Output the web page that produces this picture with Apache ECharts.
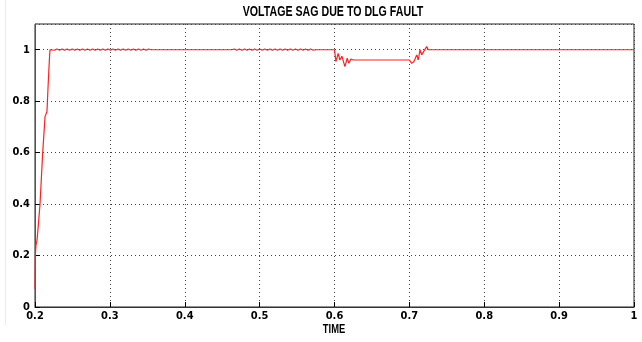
<!DOCTYPE html>
<html>
<head>
<meta charset="utf-8">
<script src="https://cdn.jsdelivr.net/npm/echarts@6/dist/echarts.min.js"></script>
<style>
  html, body { margin: 0; padding: 0; background: #fff; }
  #main { width: 642px; height: 342px; }
</style>
</head>
<body>
<div id="main"></div>
<script>
// start-up ramp (time, p.u.)
const rampTime = [0.2, 0.2005, 0.2013, 0.2027, 0.2045, 0.2067, 0.2103, 0.2134, 0.2160, 0.2175, 0.2190, 0.2200, 0.2210]
const rampVolt = [0.07, 0.20, 0.24, 0.26, 0.32, 0.40, 0.60, 0.74, 0.76, 0.86, 0.95, 1.0, 1.003]

// small ripple around 1 p.u. (uniform sampling)
const rippleStep = 0.0034
const ripple1Start = 0.2225
const ripple1Volt = [1.003, 0.998, 1.003, 0.998, 1.003, 0.998, 1.003, 0.998, 1.003, 0.998,
  1.003, 0.998, 1.003, 0.998, 1.003, 0.998, 1.003, 0.998, 1.003, 0.998,
  1.003, 0.998, 1.003, 0.998, 1.003, 0.998, 1.003, 0.998, 1.003, 0.998,
  1.003, 0.998, 1.003, 0.998, 1.003, 0.998, 1.003, 0.998, 1.003, 1.0]
const ripple2Start = 0.4627
const ripple2Volt = [1.0, 1.003, 0.998, 1.003, 0.998, 1.003, 0.998, 1.003, 0.998, 1.003,
  0.998, 1.003, 0.998, 1.003, 0.998, 1.003, 0.998, 1.003, 0.998, 1.003,
  0.998, 1.003, 0.998, 1.003, 0.998, 1.003, 0.998, 1.003, 0.998, 1.003,
  0.998, 1.003, 0.998, 1.0]

// fault (sag) at 0.6 s and recovery at 0.7 s
const sagTime = [0.5762, 0.6, 0.6019, 0.6049, 0.6072, 0.6099, 0.6139, 0.6170, 0.6192, 0.6219, 0.6250,
  0.7, 0.7031, 0.7061, 0.7098, 0.7119, 0.7142, 0.7164, 0.7231, 0.7252, 1.0]
const sagVolt = [1.0, 1.0, 0.954, 0.986, 0.960, 0.975, 0.934, 0.967, 0.947, 0.964, 0.960,
  0.960, 0.947, 0.954, 0.980, 0.960, 1.0, 0.980, 1.012, 1.0, 1.0]

const xTicks = [0.2, 0.3, 0.4, 0.5, 0.6, 0.7, 0.8, 0.9, 1]
const yTicks = [0, 0.2, 0.4, 0.6, 0.8, 1]

let points = []
rampTime.forEach((t, i) => points.push([t, rampVolt[i]]))
ripple1Volt.forEach((v, i) => points.push([ripple1Start + i * rippleStep, v]))
points.push([0.3536, 1.0])
ripple2Volt.forEach((v, i) => points.push([ripple2Start + i * rippleStep, v]))
sagTime.forEach((t, i) => points.push([t, sagVolt[i]]))

const fontName = '"DejaVu Sans Condensed", "Liberation Sans Narrow", Arial, sans-serif'
const labelFont = {
  color: '#000',
  fontFamily: fontName,
  fontWeight: 'bold',
  fontSize: 11
}

const chart = echarts.init(document.getElementById('main'))
chart.setOption({
  animation: false,
  backgroundColor: '#fff',
  graphic: [
    {
      type: 'line',
      shape: { x1: 5.5, y1: 0, x2: 5.5, y2: 325 },
      style: { stroke: '#ececec', lineWidth: 1 }
    },
    {
      // title, drawn narrow like the original
      type: 'text',
      x: 333,
      y: 5,
      scaleX: 0.76,
      style: {
        text: 'VOLTAGE SAG DUE TO DLG FAULT',
        fill: '#000',
        font: 'bold 14px "Liberation Sans", Arial, sans-serif',
        align: 'center',
        verticalAlign: 'top'
      }
    },
    {
      type: 'text',
      x: 334,
      y: 324,
      scaleX: 0.78,
      style: {
        text: 'TIME',
        fill: '#000',
        font: 'bold 12px "Liberation Sans", Arial, sans-serif',
        align: 'center',
        verticalAlign: 'top'
      }
    }
  ],
  grid: {
    left: 35,
    right: 8,
    top: 24,
    bottom: 35,
    show: true,
    borderColor: '#222',
    borderWidth: 1,
    containLabel: false
  },
  xAxis: {
    type: 'value',
    min: 0.2,
    max: 1,
    interval: 0.1,
    axisLine: { lineStyle: { color: '#333', width: 1 } },
    axisTick: { inside: true, length: 5, lineStyle: { color: '#000' } },
    axisLabel: Object.assign({}, labelFont, {
      margin: 4,
      formatter: v => {
        const r = Math.round(v * 10) / 10
        return xTicks.indexOf(r) >= 0 ? String(r) : ''
      }
    }),
    splitLine: { show: true, lineStyle: { color: '#444', type: [1, 3], width: 1 } }
  },
  yAxis: {
    type: 'value',
    min: 0,
    max: 1.1,
    interval: 0.2,
    axisLine: { show: true, lineStyle: { color: '#555', width: 1 } },
    axisTick: { show: true, inside: true, length: 5, lineStyle: { color: '#000' } },
    axisLabel: Object.assign({}, labelFont, {
      margin: 5,
      showMaxLabel: false,
      formatter: v => {
        const r = Math.round(v * 10) / 10
        return yTicks.indexOf(r) >= 0 ? String(r) : ''
      }
    }),
    splitLine: { show: true, lineStyle: { color: '#444', type: [1, 3], width: 1 } }
  },
  series: [
    {
      type: 'line',
      data: points,
      showSymbol: false,
      symbol: 'none',
      lineStyle: { color: '#ff2020', width: 1.2 }
    }
  ]
})
</script>
</body>
</html>
